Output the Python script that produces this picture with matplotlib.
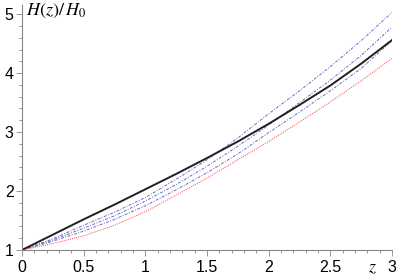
import matplotlib
matplotlib.use('Agg')
import matplotlib.pyplot as plt
from matplotlib.ticker import MultipleLocator

plt.rcParams['font.family'] = 'Liberation Sans'
plt.rcParams['mathtext.fontset'] = 'stix'

# redshift samples, values
z = [0, 0.25, 0.5, 0.75, 1, 1.25, 1.5, 1.75, 2, 2.25, 2.5, 2.75, 3]

black = [1, 1.26, 1.52, 1.77, 2.03, 2.29, 2.56, 2.84, 3.14, 3.46, 3.79, 4.16, 4.56]
red = [1, 1.11, 1.24, 1.42, 1.65, 1.93, 2.22, 2.53, 2.84, 3.17, 3.51, 3.87, 4.25]
blue_top = [1, 1.19, 1.42, 1.64, 1.89, 2.20, 2.53, 2.90, 3.31, 3.70, 4.11, 4.55, 5.03]
blue_mid = [1, 1.17, 1.37, 1.58, 1.83, 2.11, 2.42, 2.76, 3.12, 3.50, 3.88, 4.30, 4.78]
blue_low = [1, 1.15, 1.32, 1.52, 1.75, 2.02, 2.31, 2.63, 2.99, 3.34, 3.70, 4.08, 4.55]

fig = plt.figure(figsize=(4.02, 2.78), dpi=100)
ax = fig.add_axes([0.0547, 0.1007, 0.9205, 0.8803])

blue = '#6a6ac8'
for b in [blue_top, blue_mid, blue_low]:
    ax.plot(z, b, color=blue, lw=0.7, dashes=(3, 1.5, 1, 1.5))
ax.plot(z, red, color='#ff4040', lw=0.7, dashes=(1, 1.2))
ax.plot(z, black, color='#202020', lw=1.4)

ax.set_xlim(0, 3)
ax.set_ylim(1, 5.15)

for s in ['top', 'right']:
    ax.spines[s].set_visible(False)
for s in ['left', 'bottom']:
    ax.spines[s].set_color('#888888')
    ax.spines[s].set_linewidth(0.8)

ax.xaxis.set_minor_locator(MultipleLocator(0.1))
ax.yaxis.set_minor_locator(MultipleLocator(0.2))
ax.set_xticks([0, 0.5, 1, 1.5, 2, 2.5, 3])
ax.set_xticklabels(['0', '0.5', '1', '1.5', '2', '2.5', '3'])
ax.set_yticks([1, 2, 3, 4, 5])

ax.tick_params(axis='both', which='both', colors='#888888', labelcolor='black',
               labelsize=11.5, width=0.6)
ax.tick_params(axis='x', which='major', length=4, pad=3)
ax.tick_params(axis='x', which='minor', length=2)
ax.tick_params(axis='y', which='major', length=4, pad=2)
ax.tick_params(axis='y', which='minor', length=2)

ax.text(0.035, 5.05, r'$H(z)/\,H_0$', fontsize=13, va='center', ha='left')
ax.text(2.84, 0.69, r'$z$', fontsize=13, va='center', ha='center')

plt.savefig('out.png', dpi=100)
